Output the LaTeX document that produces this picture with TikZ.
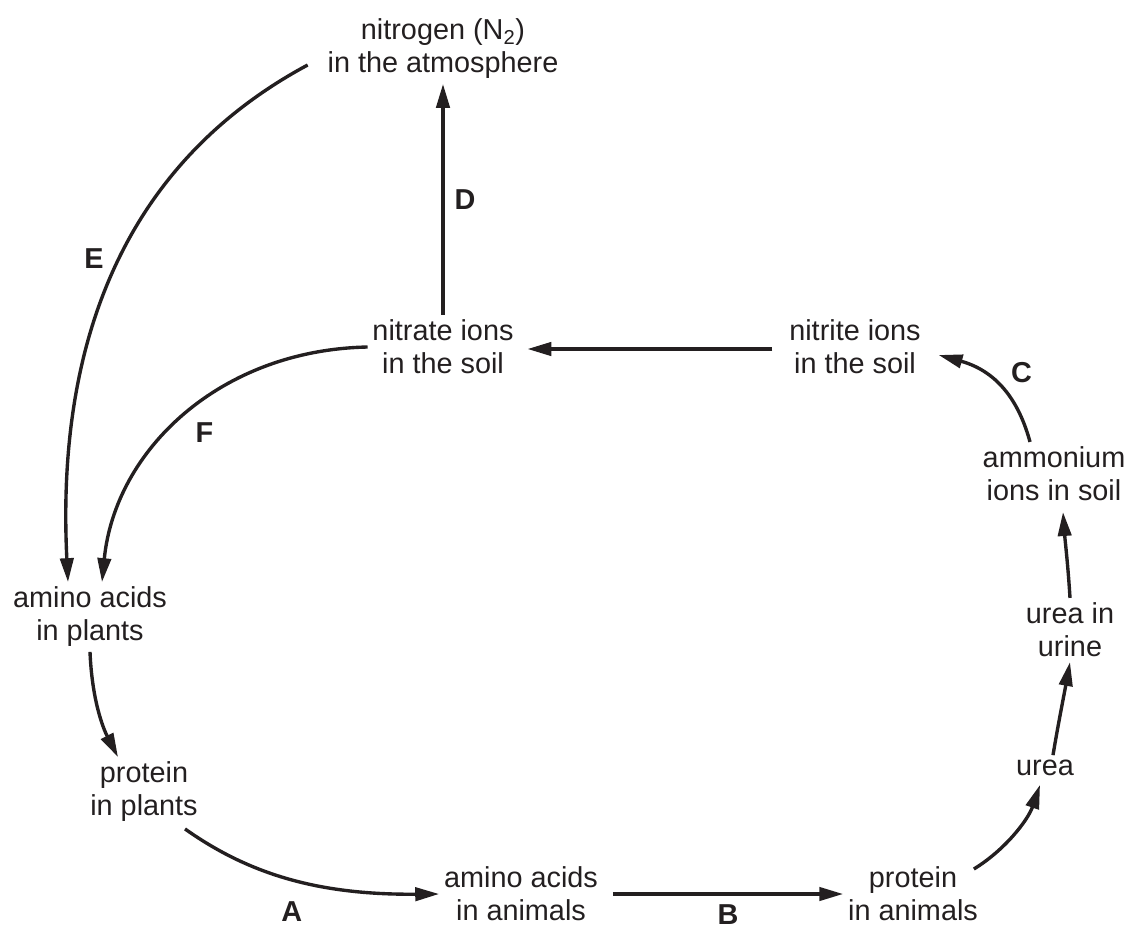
\documentclass[tikz,border=0pt]{standalone}
\usepackage{fontspec}
\setmainfont{Liberation Sans}
\usepackage{tikz}
\usetikzlibrary{arrows.meta,calc}
\definecolor{ink}{HTML}{231F20}

\begin{document}
\begin{tikzpicture}[
    x=0.025cm, y=-0.025cm,
    >={Triangle[length=17pt,width=9.5pt]},
    color=ink,
    font=\fontsize{20.5pt}{23.5pt}\selectfont,
    stage/.style={
		align=center,
		inner sep=0.333em
	},
	flow/.style={
		->,
		line width=2.4pt
	},
	letter/.style={
		font=\fontsize{20.5pt}{23pt}\selectfont\bfseries
	}
  ]
  \useasboundingbox (0,0) rectangle (1132,929);

    % We start by placing the stages of the cycle
  \node [stage] (atmos) at (443,49) {nitrogen (N\textsubscript{2})\\in the atmosphere};
  \node [stage] (nitrate) at (443,347) {nitrate ions\\in the soil};
  \node [stage] (nitrite) at (855,347) {nitrite ions\\in the soil};
  \node [stage] (ammonium) at (1054,474) {ammonium\\ions in soil};
  \node [stage] (urine) at (1070,630) {urea in\\urine};
  \node [stage] (urea) at (1045,768) {urea};
  \node [stage] (panimals) at (913,894) {protein\\in animals};
  \node [stage] (aanimals) at (521,894) {amino acids\\in animals};
  \node [stage] (pplants) at (144,792) {protein\\in plants};
  \node [stage] (aplants) at (90,617) {amino acids\\in plants};

    % then the arrows between them
  \draw [flow] ($(nitrite.west)+(-12,2)$) -- ($(nitrate.east)+(9,2)$);
  \draw [flow] (nitrate.north) -- node [letter, xshift=0.55cm] (labD) {D} (atmos.south);
  \draw [flow] ($(atmos.west)+(-15,16)$) .. controls (140,155) and (55,320) .. node [letter, xshift=-0.65cm] (labE) {E} ($(aplants.north)+(-22,0)$);
  \draw [flow] (nitrate.west) .. controls (220,350) and (115,450) .. node [letter, xshift=0.5cm, yshift=-0.4cm] (labF) {F} ($(aplants.north)+(12,0)$);
  \draw [flow] (aplants.south) .. controls (92,700) and (103,728) .. ($(pplants.north)+(-26,0)$);
  \draw [flow] ($(pplants.south)+(41,2)$) .. controls (250,875) and (320,895) .. node [letter, yshift=-0.8cm] (labA) {A} (aanimals.west);
  \draw [flow] ($(aanimals.east)+(10,0)$) -- node [letter, yshift=-0.52cm] (labB) {B} (panimals.west);
  \draw [flow] ($(panimals.east)+(-9,-25)$) .. controls (1005,850) and (1028,820) .. ($(urea.south)+(-5,4)$);
  \draw [flow] ($(urea.north)+(8,0)$) .. controls (1058,725) and (1064,695) .. (urine.south);
  \draw [flow] (urine.north) .. controls (1068,565) and (1065,540) .. ($(ammonium.south)+(9,6)$);
  \draw [flow] ($(ammonium.north)+(-24,0)$) .. controls (1020,405) and (1000,372) .. node [letter, xshift=0.45cm, yshift=0.45cm] (labC) {C} ($(nitrite.east)+(13,8)$);

\end{tikzpicture}
\end{document}
